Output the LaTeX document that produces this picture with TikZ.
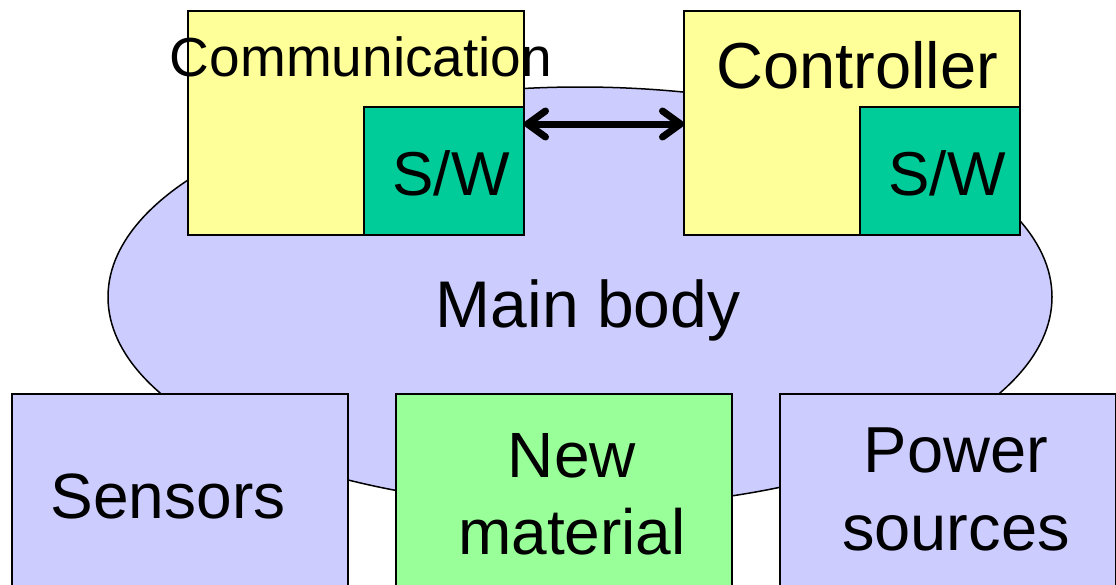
\documentclass[tikz,border=0pt]{standalone}
\usepackage{fontspec}
\setmainfont{Liberation Sans}
\usetikzlibrary{shapes.geometric,arrows.meta}
\definecolor{boxyellow}{HTML}{FFFF99}
\definecolor{swgreen}{HTML}{00CC99}
\definecolor{bodyblue}{HTML}{CCCCFF}
\definecolor{matgreen}{HTML}{99FF99}
\tikzset{
  part/.style={draw=black, line width=2pt, rectangle, inner sep=0pt, outer sep=0pt},
  unit/.style={part, fill=boxyellow, minimum width=336pt, minimum height=224pt},
  swbox/.style={part, fill=swgreen, minimum width=160pt, minimum height=128pt},
  module/.style={part, minimum width=336pt, minimum height=212pt},
  lbl/.style={anchor=base, inner sep=0pt, text=black},
  barb/.tip={Straight Barb[length=18pt, width=26pt, round]},
}
\begin{document}
\begin{tikzpicture}[x=1pt, y=-1pt]
  \clip (0,0) rectangle (1116,584);
  \fill[white] (0,0) rectangle (1116,584);

  % main body
  \node[draw=black, line width=1.5pt, fill=bodyblue, ellipse, inner sep=0pt,
        minimum width=944pt, minimum height=420pt] (body) at (580,297) {};

  % controller units with their software blocks
  \node[unit] (comm) at (356,123) {};
  \node[swbox] (commsw) at (444,171) {};
  \node[unit] (ctrl) at (852,123) {};
  \node[swbox] (ctrlsw) at (940,171) {};

  % link between the two units
  \draw[line width=7pt, line cap=round, barb-barb]
    ([yshift=-1pt]comm.east) -- ([yshift=-1pt]ctrl.west);

  % attached modules along the bottom
  \node[module, fill=bodyblue] (sens) at (180,500) {};
  \node[module, fill=matgreen] (mat) at (564,500) {};
  \node[module, fill=bodyblue] (pow) at (948,500) {};

  % labels
  \node[lbl, font=\fontsize{55}{66}\selectfont] (commlbl) at (361,76) {Communication};
  \node[lbl, font=\fontsize{65}{78}\selectfont] (ctrllbl) at (857,88) {Controller};
  \node[lbl, font=\fontsize{62}{74}\selectfont] (commswlbl) at (451,195) {S/W};
  \node[lbl, font=\fontsize{62}{74}\selectfont] (ctrlswlbl) at (947,195) {S/W};
  \node[lbl, font=\fontsize{66}{79}\selectfont] (bodylbl) at (588,327) {Main body};
  \node[lbl, font=\fontsize{64}{76}\selectfont] (senslbl) at (168,518) {Sensors};
  \node[lbl, font=\fontsize{64}{77}\selectfont, align=center] (matlbl) at (572,554) {New\\material};
  \node[lbl, font=\fontsize{65}{78}\selectfont, align=center] (powlbl) at (956,550) {Power\\sources};
\end{tikzpicture}
\end{document}
